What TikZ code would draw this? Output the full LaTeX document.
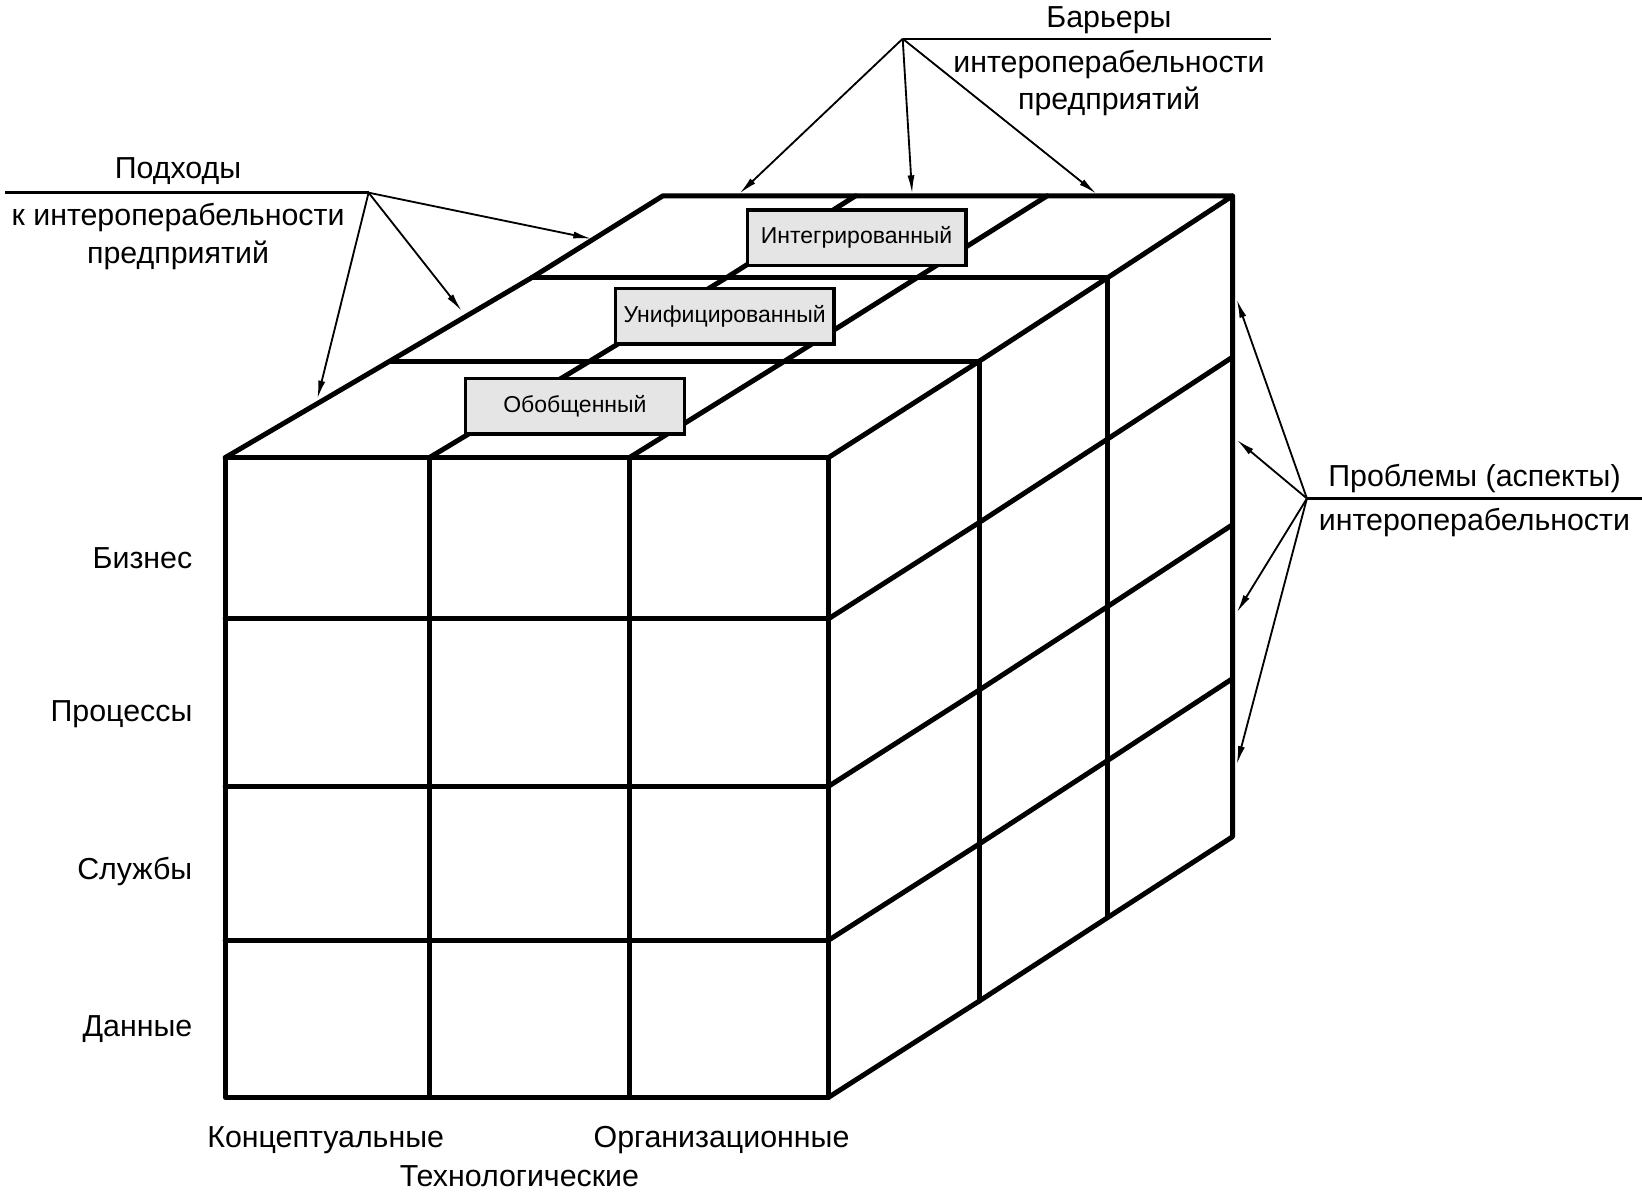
\documentclass[tikz,border=0pt]{standalone}
\usepackage{fontspec}
\setmainfont{Liberation Sans}
\usetikzlibrary{arrows.meta,positioning}

\begin{document}
\begin{tikzpicture}[x=0.02cm, y=-0.02cm,
  every node/.style={font=\fontsize{16.5}{21}\selectfont, inner sep=0pt},
  edge/.style={line width=2.7pt, line cap=round, line join=round},
  ptr/.style={line width=1pt, -{Latex[length=10pt,width=3.8pt]}},
  rule/.style={line width=1.3pt},
  tag/.style={draw, line width=1.8pt, fill=black!10, minimum width=4.18cm,
    minimum height=1.06cm, font=\fontsize{12.5}{15}\selectfont}]
  \useasboundingbox (0,0) rectangle (1568,1138);
  % --- front face ---
  \draw[edge] (215,437) rectangle (791,1048);
  \foreach \x in {410,601} \draw[edge] (\x,437) -- (\x,1048);
  \foreach \y in {591,751,898} \draw[edge] (215,\y) -- (791,\y);
  % --- top face ---
  \draw[edge] (215,437) -- (372,345) -- (508,265) -- (633,187) -- (1177,187)
    -- (1058,265) -- (935,345) -- (791,437);
  \draw[edge] (372,345) -- (935,345);
  \draw[edge] (508,265) -- (1058,265);
  \draw[edge] (410,437) -- (563,345) -- (694,265) -- (817,187);
  \draw[edge] (601,437) -- (749,345) -- (876,265) -- (1000,187);
  % --- right face ---
  \draw[edge] (791,1048) -- (935,956) -- (1058,876) -- (1177,799) -- (1177,187);
  \draw[edge] (935,345) -- (935,956);
  \draw[edge] (1058,265) -- (1058,876);
  \foreach \o in {154,314,461}
    \draw[edge] (791,437+\o) -- (935,345+\o) -- (1058,265+\o) -- (1177,187+\o);
  % --- levels on top ---
  \node[tag] (obob) at (549,388) {Обобщенный};
  \node[tag] (unif) at (692,302) {Унифицированный};
  \node[tag] (integ) at (818,227) {Интегрированный};
  % --- rows and columns ---
  \node[anchor=base east] (biz) at (184,543) {Бизнес};
  \node[anchor=base east] (proc) at (184,689) {Процессы};
  \node[anchor=base east] (serv) at (184,840) {Службы};
  \node[anchor=base east] (data) at (184,990) {Данные};
  \node[anchor=base] (conc) at (311,1096) {Концептуальные};
  \node[anchor=base] (tech) at (496,1133) {Технологические};
  \node[anchor=base] (org) at (689,1096) {Организационные};
  % --- barriers ---
  \coordinate (barApex) at (862,37);
  \draw[rule] (barApex) -- (1214,37);
  \node[anchor=base] (bar1) at (1059,26) {Барьеры};
  \node[anchor=base] (bar2) at (1059,69) {интероперабельности};
  \node[anchor=base] (bar3) at (1059,105) {предприятий};
  \coordinate (barA) at (706,185);
  \coordinate (barB) at (871,185);
  \coordinate (barC) at (1047,185);
  \foreach \t in {barA,barB,barC} \draw[ptr] (barApex) -- (\t);
  % --- approaches ---
  \coordinate (appApex) at (352,184);
  \draw[rule] (5,184) -- (appApex);
  \node[anchor=base] (app1) at (170,170) {Подходы};
  \node[anchor=base] (app2) at (170,215) {к интероперабельности};
  \node[anchor=base] (app3) at (170,252) {предприятий};
  \coordinate (appA) at (565,228);
  \coordinate (appB) at (441,297);
  \coordinate (appC) at (303,381);
  \foreach \t in {appA,appB,appC} \draw[ptr] (appApex) -- (\t);
  % --- concerns ---
  \coordinate (conApex) at (1248,476);
  \draw[rule] (conApex) -- (1568,476);
  \node[anchor=base] (con1) at (1408,465) {Проблемы (аспекты)};
  \node[anchor=base] (con2) at (1408,507) {интероперабельности};
  \coordinate (conA) at (1181,286);
  \coordinate (conB) at (1181,420);
  \coordinate (conC) at (1181,585);
  \coordinate (conD) at (1181,730);
  \foreach \t in {conA,conB,conC,conD} \draw[ptr] (conApex) -- (\t);
\end{tikzpicture}
\end{document}
